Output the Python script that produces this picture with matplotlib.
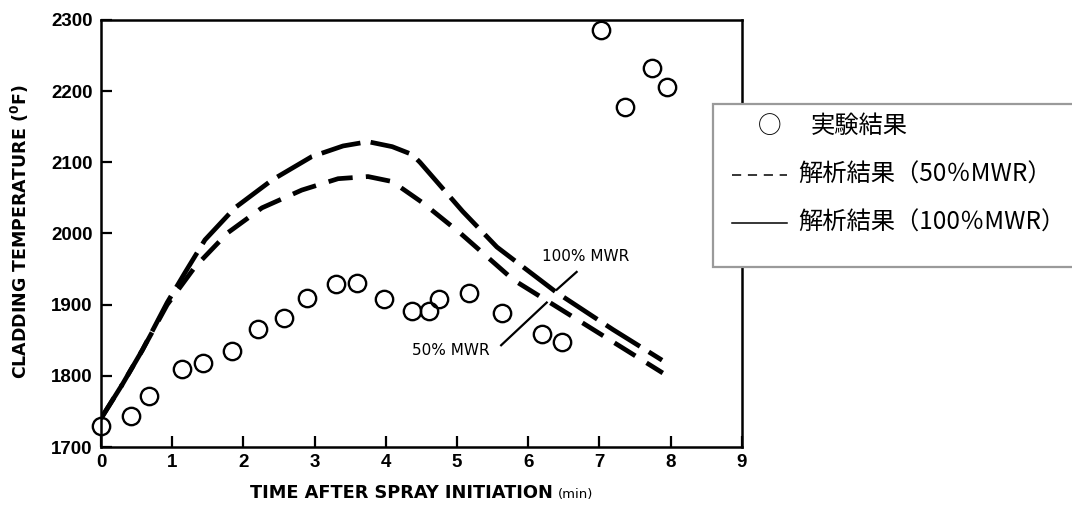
import matplotlib
matplotlib.use("Agg")
import matplotlib.pyplot as plt
from matplotlib.patches import Rectangle
from matplotlib.lines import Line2D

# measured cladding temperatures (open circles)
time_exp = [0.0, 0.42, 0.67, 1.14, 1.43, 1.84, 2.2, 2.57, 2.9, 3.3, 3.59, 3.98,
            4.37, 4.6, 4.75, 5.17, 5.63, 6.19, 6.47, 7.02, 7.36, 7.74, 7.95]
temp_exp = [1730, 1744, 1772, 1810, 1818, 1835, 1866, 1881, 1910, 1929, 1931, 1908,
            1891, 1891, 1908, 1916, 1889, 1859, 1848, 2286, 2178, 2232, 2206]

# calculated curve, 100% MWR
time_100 = [0.0, 0.3, 0.58, 0.93, 1.18, 1.46, 1.88, 2.4, 2.96, 3.4, 3.75, 4.09,
            4.37, 4.48, 5.08, 5.56, 6.4, 7.19, 7.88]
temp_100 = [1740, 1788, 1836, 1903, 1945, 1991, 2036, 2075, 2108, 2123, 2129, 2122,
            2111, 2100, 2031, 1981, 1917, 1865, 1822]

# calculated curve, 50% MWR
time_50 = [0.0, 0.3, 0.58, 0.93, 1.32, 1.78, 2.26, 2.82, 3.33, 3.75, 4.09, 4.52,
           5.04, 5.79, 6.69, 7.89]
temp_50 = [1740, 1788, 1836, 1900, 1953, 2001, 2036, 2061, 2077, 2080, 2073, 2043,
           2001, 1935, 1879, 1804]

x_ticks = list(range(0, 10))
y_ticks = list(range(1700, 2301, 100))

legend_labels = ["実験結果", "解析結果（50％MWR）", "解析結果（100％MWR）"]

tick_font = ['Liberation Sans', 'DejaVu Sans']
cjk_font = ['Noto Sans CJK JP', 'DejaVu Sans']

fig = plt.figure(figsize=(10.72, 5.07), dpi=100)
ax = fig.add_axes([0.0942, 0.1183, 0.5978, 0.8423])

ax.plot(time_100, temp_100, color='black', lw=3.4, dashes=(8.5, 2.2),
        dash_capstyle='butt')
ax.plot(time_50, temp_50, color='black', lw=3.4, dashes=(5.2, 2.8),
        dash_capstyle='butt')
ax.plot(time_exp, temp_exp, linestyle='none', marker='o', markersize=12.5,
        markerfacecolor='none', markeredgecolor='black', markeredgewidth=1.7,
        clip_on=False, zorder=4)

# curve labels and their leader lines
ax.text(6.80, 1967, "100% MWR", ha='center', va='center', fontsize=11,
        family=['DejaVu Sans'])
ax.text(4.91, 1836, "50% MWR", ha='center', va='center', fontsize=11,
        family=['DejaVu Sans'])
ax.plot([6.68, 6.40], [1946, 1921], color='black', lw=1.6)
ax.plot([5.62, 6.26], [1843, 1903], color='black', lw=1.6)

ax.set_xlim(0, 9)
ax.set_ylim(1700, 2300)
ax.set_xticks(x_ticks)
ax.set_yticks(y_ticks)
ax.tick_params(direction='in', length=8, width=1.6, labelsize=13.5)
ax.tick_params(axis='x', pad=5)
ax.tick_params(axis='y', pad=6)
for lab in ax.get_xticklabels() + ax.get_yticklabels():
    lab.set_family(tick_font)
    lab.set_fontweight('bold')
for sp in ax.spines.values():
    sp.set_linewidth(1.8)

fig.text(0.019, 0.542, r"CLADDING TEMPERATURE ($^{\mathbf{0}}$F)", rotation=90,
         ha='center', va='center', fontsize=12.5, fontweight='bold',
         family=['DejaVu Sans'])
fig.text(0.516, 0.018, "TIME AFTER SPRAY INITIATION", ha='right', va='baseline',
         fontsize=12.8, fontweight='bold', family=['DejaVu Sans'])
fig.text(0.520, 0.018, "(min)", ha='left', va='baseline', fontsize=9.5,
         family=['DejaVu Sans'])

# legend box, running off the right edge
box = Rectangle((0.665, 0.473), 0.4, 0.322, transform=fig.transFigure,
                facecolor='white', edgecolor='#9a9a9a', lw=1.6, zorder=5)
fig.add_artist(box)
row_y = [0.751, 0.655, 0.560]
x0, x1 = 732 / 1072, 787 / 1072

fig.text(770 / 1072, row_y[0], "○", ha='center', va='center', fontsize=17,
         family=cjk_font, zorder=6)
fig.text(811 / 1072, row_y[0], legend_labels[0], ha='left', va='center',
         fontsize=17.5, family=cjk_font, zorder=6)

fig.add_artist(Line2D([x0, x1], [row_y[1], row_y[1]], transform=fig.transFigure,
                      color='black', lw=1.1, dashes=(6, 4.4), zorder=6))
fig.text(798 / 1072, row_y[1], legend_labels[1], ha='left', va='center',
         fontsize=17.5, family=cjk_font, zorder=6)

fig.add_artist(Line2D([x0, x1], [row_y[2], row_y[2]], transform=fig.transFigure,
                      color='black', lw=1.1, zorder=6))
fig.text(798 / 1072, row_y[2], legend_labels[2], ha='left', va='center',
         fontsize=17.5, family=cjk_font, zorder=6)

fig.savefig("out.png", dpi=100)
